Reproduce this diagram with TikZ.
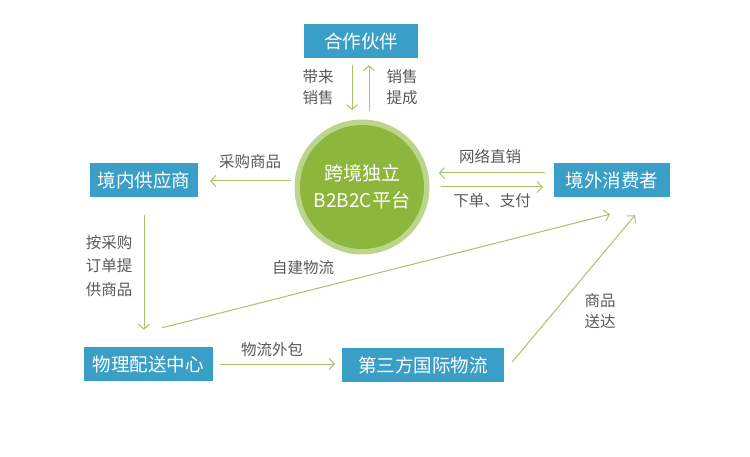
\documentclass[tikz,border=0pt]{standalone}
\usepackage{fontspec}
\setmainfont{Noto Sans CJK SC}
\usetikzlibrary{arrows.meta}
\definecolor{boxblue}{HTML}{3A9FC6}
\definecolor{ringgreen}{HTML}{BBD58C}
\definecolor{coregreen}{HTML}{8DB63C}
\definecolor{arrgreen}{HTML}{A6C46C}
\definecolor{txtgray}{HTML}{5A5A5A}
\begin{document}
\begin{tikzpicture}[x=1pt,y=-1pt,
  box/.style={fill=boxblue,text=white,font=\fontsize{18.5}{20}\selectfont,minimum height=34pt,inner sep=0pt},
  lbl/.style={text=txtgray,font=\fontsize{15.5}{21}\selectfont,align=center,inner sep=0pt},
  arr/.style={draw=arrgreen,line width=1pt,-{Straight Barb[length=5pt,width=11pt,line width=1pt]}}]
\useasboundingbox (0,0) rectangle (750,457);
\fill[white] (0,0) rectangle (750,457);
% nodes
\node[box,minimum width=114pt] (hz) at (361,41) {合作伙伴};
\node[box,minimum width=108pt] (sup) at (144,180) {境内供应商};
\node[box,minimum width=116pt] (cons) at (612,180) {境外消费者};
\node[box,minimum width=129pt] (dc) at (148,364) {物理配送中心};
\node[box,minimum width=162pt] (tp) at (423,365) {第三方国际物流};
\node[circle,fill=ringgreen,minimum size=135pt,inner sep=0pt] (plat) at (362,187) {};
\node[circle,fill=coregreen,minimum size=124pt,inner sep=0pt,text=white,align=center,
  font=\fontsize{19}{27}\selectfont] (core) at (plat.center) {跨境独立\\B2B2C平台};
% connectors
\draw[arr] ([shift={(-9,7)}]hz.south) -- ([shift={(-9,52)}]hz.south);
\draw[arr] ([shift={(8,53)}]hz.south) -- ([shift={(8,7)}]hz.south);
\draw[arr] ([shift={(-9,-7)}]cons.west) -- ([shift={(-115,-7)}]cons.west);
\draw[arr] ([shift={(-113,7)}]cons.west) -- ([shift={(-11,7)}]cons.west);
\draw[arr] ([shift={(93,1)}]sup.east) -- ([shift={(12,1)}]sup.east);
\draw[arr,shorten <=18pt,shorten >=17pt] (sup.south) -- (sup.south |- dc.north);
\draw[arr] ([shift={(14,-19)}]dc.north) -- ([shift={(-2,17)}]cons.south);
\draw[arr,shorten <=7pt,shorten >=7pt] (dc.east) -- (dc.east -| tp.west);
\draw[arr] ([shift={(8,-3)}]tp.east) -- ([shift={(23,18)}]cons.south);
% labels
\node[lbl] (l1) at (318,87) {带来\\销售};
\node[lbl] (l2) at (402,87) {销售\\提成};
\node[lbl] (l3) at (490,157) {网络直销};
\node[lbl] (l4) at (492,201) {下单、支付};
\node[lbl] (l5) at (250,162) {采购商品};
\node[lbl,font=\fontsize{15.5}{23.5}\selectfont] (l6) at (109,266) {按采购\\订单提\\供商品};
\node[lbl] (l7) at (303,268) {自建物流};
\node[lbl] (l8) at (272,350) {物流外包};
\node[lbl] (l9) at (600,311) {商品\\送达};
\end{tikzpicture}
\end{document}
